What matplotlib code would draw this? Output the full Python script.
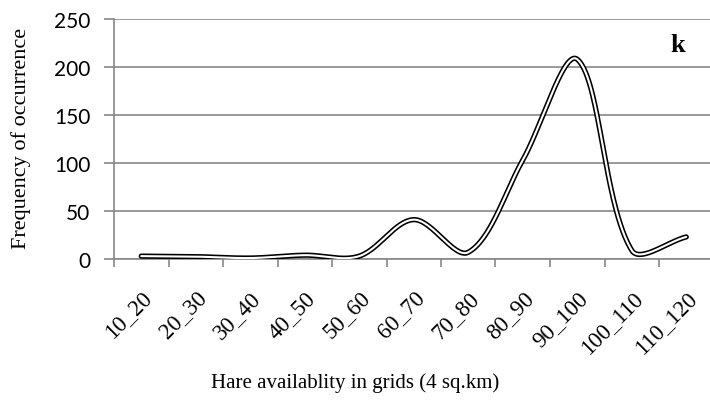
import numpy as np
import matplotlib
matplotlib.use("Agg")
import matplotlib.pyplot as plt
import matplotlib.transforms as mtransforms

categories = ["10_20", "20_30", "30_40", "40_50", "50_60", "60_70",
              "70_80", "80_90", "90_100", "100_110", "110_120"]
frequency = [3, 2.5, 1, 4, 3, 41, 7, 103, 208, 9, 23]
y_ticks = [0, 50, 100, 150, 200, 250]

plt.rcParams["font.family"] = ["Liberation Serif", "DejaVu Serif"]


def smooth(pts, n=60):
    """Cubic Bezier through every point, tangents weighted by segment length."""
    pts = np.asarray(pts, float)
    m = len(pts)
    out = []
    for i in range(m - 1):
        p0 = pts[i - 1] if i > 0 else pts[i]
        p1 = pts[i]
        p2 = pts[i + 1]
        p3 = pts[i + 2] if i + 2 < m else pts[i + 1]
        d01 = np.linalg.norm(p1 - p0)
        d12 = np.linalg.norm(p2 - p1)
        d23 = np.linalg.norm(p3 - p2)
        w1 = d12 / (d01 + d12) if d01 + d12 > 0 else 0.5
        w2 = d12 / (d12 + d23) if d12 + d23 > 0 else 0.5
        c1 = p1 + (p2 - p0) * w1 / 3.0
        c2 = p2 - (p3 - p1) * w2 / 3.0
        t = np.linspace(0, 1, n)[:, None]
        seg = ((1 - t) ** 3) * p1 + 3 * ((1 - t) ** 2) * t * c1 \
            + 3 * (1 - t) * t ** 2 * c2 + t ** 3 * p2
        out.append(seg if i == 0 else seg[1:])
    return np.vstack(out)


fig = plt.figure(figsize=(7.10, 4.14), dpi=100)
ax = fig.add_axes([114 / 710, 154 / 414, (713.5 - 114) / 710, 240 / 414])

x = np.arange(len(categories))
ax.set_xlim(-0.5, len(categories) - 0.5)
ax.set_ylim(0, 250)

# smooth in display space so the curve shape follows the drawn aspect
disp = ax.transData.transform(np.column_stack([x, frequency]))
curve = ax.transData.inverted().transform(smooth(disp))
ax.plot(curve[:, 0], curve[:, 1], color="black", lw=3.8,
        solid_capstyle="round", zorder=3)
ax.plot(curve[:, 0], curve[:, 1], color="white", lw=1.5,
        solid_capstyle="round", zorder=4)

ax.set_yticks(y_ticks)
ax.set_yticklabels([str(v) for v in y_ticks], family=["Lato", "DejaVu Sans"],
                   fontsize=15)
ax.set_xticks(x)
ax.set_xticklabels(categories, rotation=45, ha="right", va="top",
                   rotation_mode="anchor", fontsize=16.5)
shift = mtransforms.ScaledTranslation(-14 / 100, 0, fig.dpi_scale_trans)
for lbl in ax.get_xticklabels():
    lbl.set_transform(lbl.get_transform() + shift)
ax.set_xticks(np.arange(-0.5, len(categories), 1.0), minor=True)
ax.tick_params(axis="x", which="major", length=0, pad=20)
ax.tick_params(axis="x", which="minor", length=6, color="#888888", width=1.2)
ax.tick_params(axis="y", length=7, color="#888888", width=1.2, pad=10)

ax.grid(axis="y", color="#888888", lw=1.2, zorder=1)
for side in ["top", "right"]:
    ax.spines[side].set_visible(False)
for side in ["left", "bottom"]:
    ax.spines[side].set_color("#888888")
    ax.spines[side].set_linewidth(1.2)

fig.text(21 / 710, 1 - 138 / 414, "Frequency of occurrence", fontsize=16,
         rotation=90, ha="center", va="center")
fig.text(355 / 710, 1 - 383 / 414, "Hare availablity in grids (4 sq.km)",
         fontsize=15, ha="center", va="center")
fig.text(678 / 710, 1 - 45 / 414, "k", fontsize=19, fontweight="bold",
         ha="center", va="center")

fig.savefig("out.png", dpi=100)
